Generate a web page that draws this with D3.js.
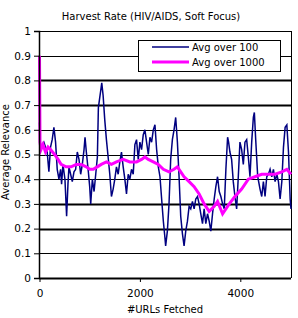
<!DOCTYPE html>
<html>
<head>
<meta charset="utf-8">
<script src="https://cdn.jsdelivr.net/npm/d3@7"></script>
<style>
  body { margin: 0; background: #fff; }
  svg text { font-family: "DejaVu Sans", Verdana, sans-serif; fill: #000; }
</style>
</head>
<body>
<div id="chart"></div>
<script>
// series: [URLs fetched, average relevance]
var avg100 = [
  [0,0.63],[20,0.53],[53,0.54],[87,0.55],[153,0.51],[187,0.43],[220,0.53],[253,0.56],[287,0.61],
  [320,0.55],[353,0.44],[387,0.40],[420,0.44],[440,0.38],[467,0.46],[507,0.40],[540,0.25],[567,0.38],
  [587,0.45],[620,0.42],[653,0.39],[687,0.43],[720,0.44],[753,0.51],[787,0.48],[820,0.42],[853,0.46],
  [887,0.52],[907,0.57],[933,0.51],[973,0.43],[1000,0.37],[1020,0.30],[1053,0.40],[1087,0.35],
  [1120,0.42],[1153,0.49],[1173,0.69],[1200,0.73],[1227,0.77],[1240,0.79],[1267,0.74],[1300,0.64],
  [1333,0.56],[1367,0.49],[1400,0.42],[1433,0.33],[1467,0.36],[1500,0.40],[1533,0.45],[1567,0.42],
  [1600,0.47],[1633,0.51],[1667,0.45],[1700,0.40],[1733,0.34],[1767,0.42],[1800,0.40],[1833,0.44],
  [1867,0.42],[1900,0.54],[1933,0.56],[1967,0.48],[2000,0.55],[2033,0.52],[2067,0.58],[2100,0.60],
  [2133,0.55],[2167,0.50],[2200,0.57],[2233,0.55],[2267,0.60],[2300,0.62],[2333,0.52],[2367,0.45],
  [2400,0.41],[2433,0.32],[2467,0.23],[2500,0.16],[2513,0.13],[2547,0.19],[2580,0.30],[2613,0.48],
  [2647,0.56],[2680,0.60],[2713,0.65],[2747,0.55],[2780,0.41],[2813,0.25],[2847,0.18],[2880,0.13],
  [2913,0.19],[2947,0.23],[2980,0.29],[3013,0.28],[3047,0.31],[3080,0.28],[3113,0.32],[3147,0.33],
  [3180,0.30],[3213,0.26],[3247,0.22],[3280,0.28],[3313,0.22],[3347,0.26],[3380,0.23],[3413,0.19],
  [3447,0.26],[3480,0.32],[3513,0.37],[3547,0.41],[3580,0.35],[3613,0.33],[3647,0.30],[3680,0.28],
  [3713,0.44],[3747,0.57],[3767,0.55],[3793,0.51],[3827,0.48],[3860,0.39],[3893,0.33],[3927,0.28],
  [3960,0.41],[3993,0.55],[4027,0.52],[4060,0.46],[4093,0.55],[4127,0.56],[4160,0.49],[4193,0.41],
  [4227,0.55],[4260,0.65],[4280,0.67],[4307,0.56],[4347,0.41],[4393,0.36],[4427,0.33],[4460,0.39],
  [4493,0.33],[4527,0.41],[4560,0.42],[4593,0.44],[4627,0.41],[4660,0.44],[4693,0.39],[4727,0.42],
  [4760,0.39],[4793,0.32],[4827,0.39],[4860,0.53],[4893,0.61],[4927,0.62],[4960,0.51],[4993,0.32],
  [5010,0.28]
];
var avg1000 = [
  [0,0.90],[10,0.55],[30,0.52],[70,0.54],[120,0.51],[170,0.53],[220,0.52],[300,0.50],[370,0.48],
  [430,0.46],[530,0.45],[630,0.45],[730,0.46],[830,0.46],[930,0.45],[1000,0.44],[1070,0.44],
  [1150,0.45],[1230,0.46],[1333,0.47],[1433,0.46],[1533,0.47],[1667,0.48],[1800,0.47],[1933,0.47],
  [2033,0.48],[2100,0.49],[2167,0.48],[2267,0.47],[2367,0.46],[2467,0.44],[2580,0.43],[2680,0.44],
  [2747,0.45],[2813,0.43],[2880,0.41],[2980,0.39],[3080,0.37],[3180,0.34],[3280,0.30],[3380,0.27],
  [3480,0.29],[3547,0.31],[3647,0.26],[3713,0.28],[3780,0.30],[3893,0.33],[4027,0.36],[4160,0.40],
  [4293,0.41],[4427,0.42],[4560,0.42],[4693,0.42],[4827,0.43],[4927,0.44],[5010,0.42]
];
var seriesNames = ["Avg over 100", "Avg over 1000"];
var yTicks = [0, 0.1, 0.2, 0.3, 0.4, 0.5, 0.6, 0.7, 0.8, 0.9, 1];
var xTicks = [0, 2000, 4000];
var title = "Harvest Rate (HIV/AIDS, Soft Focus)";
var xTitle = "#URLs Fetched";
var yTitle = "Average Relevance";

var width = 298, height = 318;
var svg = d3.select("#chart").append("svg")
    .attr("width", width)
    .attr("height", height);

var xScale = d3.scaleLinear().domain([0, 5000]).range([39.5, 290.5]);
var yScale = d3.scaleLinear().domain([0, 1]).range([278, 31]);

// gridlines (some look heavier in the original scan)
var heavy = [0, 0.2, 0.3, 0.7, 0.8];
svg.selectAll(".grid")
    .data(yTicks)
  .enter().append("line")
    .attr("class", "grid")
    .attr("x1", xScale(0))
    .attr("x2", 291)
    .attr("y1", function(d) { return Math.round(yScale(d)) + 0.5; })
    .attr("y2", function(d) { return Math.round(yScale(d)) + 0.5; })
    .attr("stroke", "#000")
    .attr("stroke-width", function(d) { return heavy.indexOf(d) >= 0 ? 2 : 1; });

// right border
svg.append("line")
    .attr("x1", 291.5).attr("x2", 291.5)
    .attr("y1", yScale(1)).attr("y2", yScale(0))
    .attr("stroke", "#000");

var line = d3.line()
    .x(function(d) { return xScale(d[0]); })
    .y(function(d) { return yScale(d[1]); });

svg.append("path")
    .datum(avg100)
    .attr("fill", "none")
    .attr("stroke", "#000080")
    .attr("stroke-width", 1.5)
    .attr("d", line);

svg.append("path")
    .datum(avg1000)
    .attr("fill", "none")
    .attr("stroke", "#ff00ff")
    .attr("stroke-width", 3)
    .attr("d", line);

// axes
var yAxis = svg.append("g")
    .attr("transform", "translate(39,0)")
    .call(d3.axisLeft(yScale).tickValues(yTicks).tickSize(5).tickPadding(3)
      .tickFormat(function(d) { return d === 0 || d === 1 ? d : d3.format(".1f")(d); }));
yAxis.select(".domain").attr("stroke", "#000").attr("stroke-width", 1.5);
yAxis.selectAll("text").style("font-size", "10.5px");

var xAxis = svg.append("g")
    .attr("transform", "translate(0,278)")
    .call(d3.axisBottom(xScale).tickValues(xTicks).tickSize(4).tickPadding(8).tickFormat(d3.format("d")));
xAxis.select(".domain").remove();
xAxis.selectAll("text").style("font-size", "10.5px");

// titles
svg.append("text")
    .attr("x", 151).attr("y", 20)
    .attr("text-anchor", "middle")
    .style("font-size", "10px")
    .text(title);

svg.append("text")
    .attr("x", 165).attr("y", 313)
    .attr("text-anchor", "middle")
    .style("font-size", "10px")
    .text(xTitle);

svg.append("text")
    .attr("transform", "translate(9,152) rotate(-90)")
    .attr("text-anchor", "middle")
    .style("font-size", "10px")
    .text(yTitle);

// legend
var legend = svg.append("g");
legend.append("rect")
    .attr("x", 138.5).attr("y", 40.5)
    .attr("width", 142).attr("height", 31)
    .attr("fill", "#fff")
    .attr("stroke", "#000");
var legendColors = ["#000080", "#ff00ff"];
var legendWidths = [1.5, 3];
seriesNames.forEach(function(name, i) {
  var yy = 47 + i * 15;
  legend.append("line")
      .attr("x1", 152).attr("x2", 189)
      .attr("y1", yy).attr("y2", yy)
      .attr("stroke", legendColors[i])
      .attr("stroke-width", legendWidths[i]);
  legend.append("text")
      .attr("x", 192).attr("y", yy + 4)
      .style("font-size", "10px")
      .text(name);
});
</script>
</body>
</html>
